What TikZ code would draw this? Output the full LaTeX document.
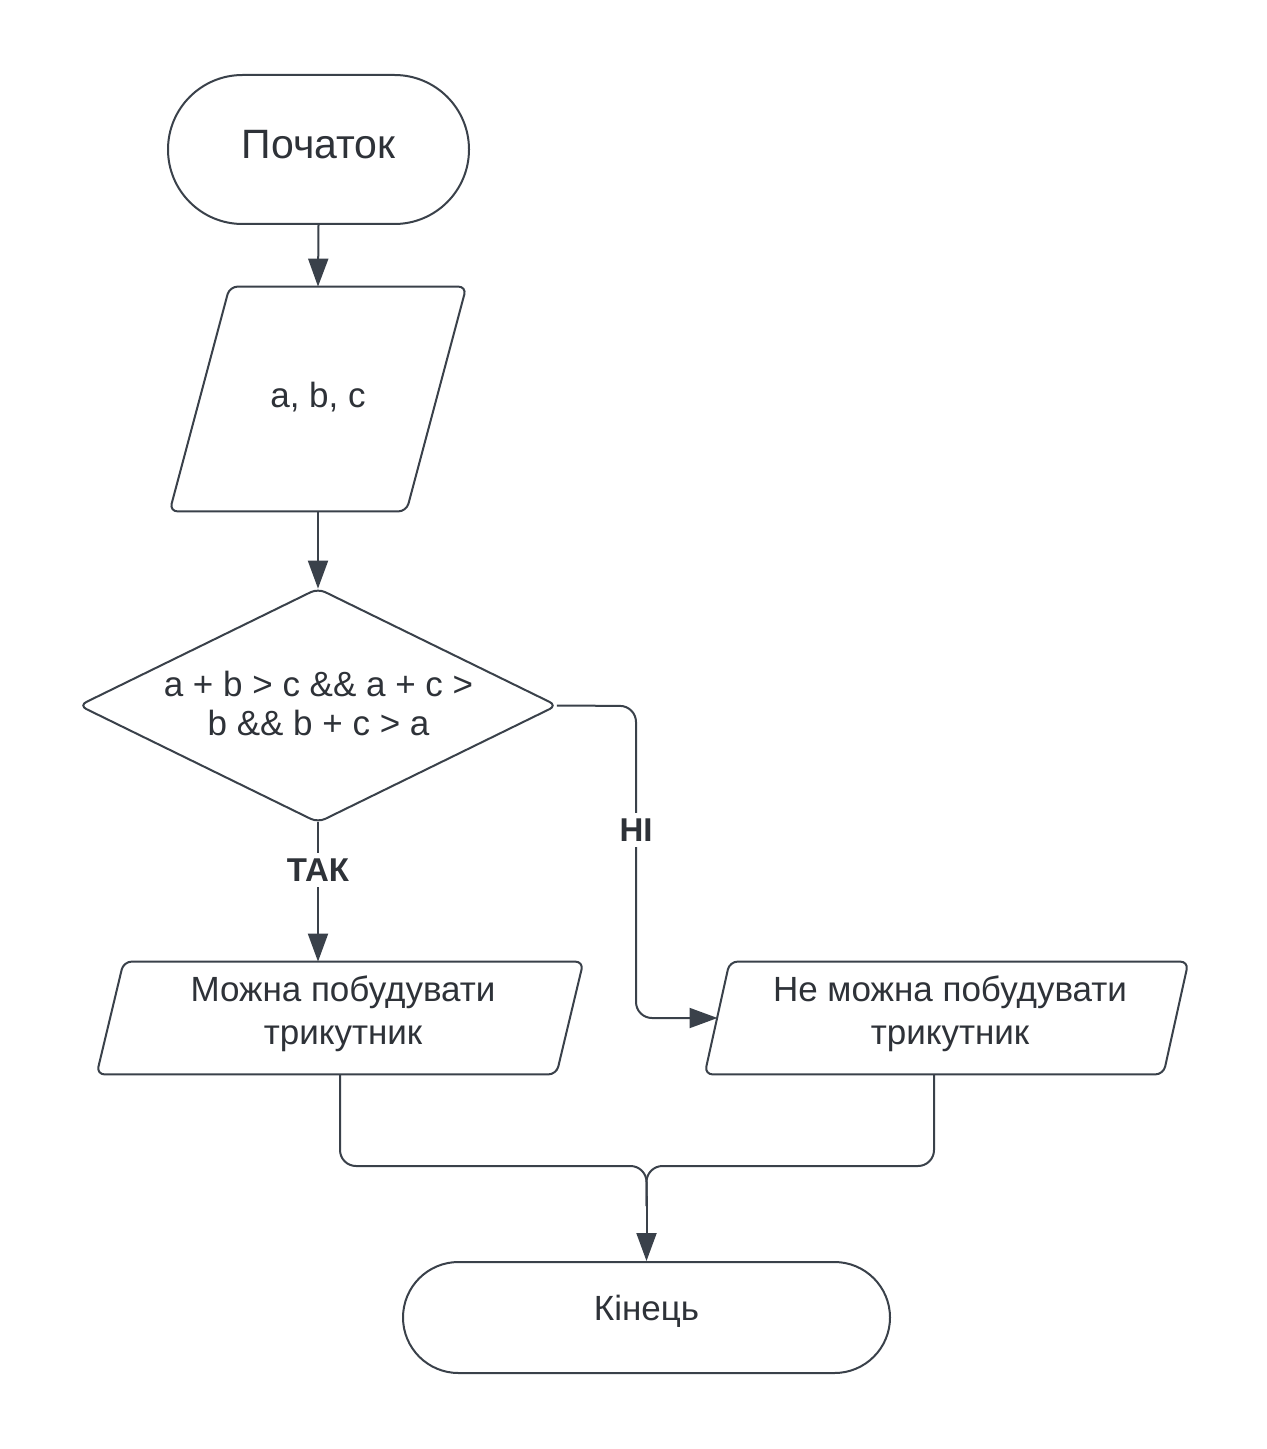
\documentclass[tikz,border=0pt]{standalone}
\usepackage{fontspec}
\setmainfont{Liberation Sans}
\usetikzlibrary{arrows.meta,calc}
\definecolor{linec}{HTML}{3A414A}
\definecolor{textc}{HTML}{2E3238}
\begin{document}
\begin{tikzpicture}[x=0.5pt,y=-0.5pt,
  every node/.style={text=textc, align=center, inner sep=0pt},
  ln/.style={draw=linec, line width=1pt},
  arr/.style={ln, -{Triangle[length=14pt,width=10pt]}},
  term/.style={ln, rectangle, fill=white},
  box/.style={draw=none, rectangle},
  body/.style={font=\fontsize{17.5}{21}\selectfont},
  lbl/.style={font=\fontsize{16.5}{19}\selectfont\bfseries, fill=white, inner sep=3pt}
]
\useasboundingbox (0,0) rectangle (1266,1449);
\fill[white] (0,0) rectangle (1266,1449);

% start
\node[term, minimum width=150.5pt, minimum height=74.5pt, rounded corners=37.25pt] (start) at (318.5,149.5) {};
\node[font=\fontsize{20.5}{24}\selectfont] (starttxt) at (318.5,145) {Початок};

% input a,b,c
\node[box, minimum width=148pt, minimum height=112pt] (p1) at (318,399) {};
\draw[ln, rounded corners=4pt] ($(p1.north west)+(60,0)$) -- (p1.north east)
   -- ($(p1.south east)+(-60,0)$) -- (p1.south west) -- cycle;
\node[body] (p1txt) at (318,397) {a, b, c};

% decision
\node[box, minimum width=238.5pt, minimum height=116.5pt] (d) at (318,705.5) {};
\draw[ln, rounded corners=4pt] (d.north) -- (d.east) -- (d.south) -- (d.west) -- cycle;
\node[font=\fontsize{17.5}{19.5}\selectfont] (dtxt) at (318.5,703) {a + b > c \&\& a + c >\\b \&\& b + c > a};

% yes output
\node[box, minimum width=243pt, minimum height=56pt] (p2) at (340,1018) {};
\draw[ln, rounded corners=4pt] ($(p2.north west)+(27,0)$) -- (p2.north east)
   -- ($(p2.south east)+(-27,0)$) -- (p2.south west) -- cycle;
\node[font=\fontsize{17.5}{21.5}\selectfont] (p2txt) at (343,1014) {Можна побудувати\\трикутник};

% no output
\node[box, minimum width=241.5pt, minimum height=56pt] (p3) at (946.5,1018) {};
\draw[ln, rounded corners=4pt] ($(p3.north west)+(25,0)$) -- (p3.north east)
   -- ($(p3.south east)+(-25,0)$) -- (p3.south west) -- cycle;
\node[font=\fontsize{17.5}{21.5}\selectfont] (p3txt) at (950,1014) {Не можна побудувати\\трикутник};

% end
\node[term, minimum width=243.5pt, minimum height=55.5pt, rounded corners=27.75pt] (end) at (646.5,1317.5) {};
\node[body] (endtxt) at (646.5,1311) {Кінець};

% connectors
\coordinate (nox) at (636,706);
\coordinate (p3in) at (717.5,1018);
\coordinate (m) at (646.5,1166);
\coordinate (p3out) at (934,1074);

\draw[arr] (start.south) -- (p1.north);
\draw[arr] (p1.south) -- (d.north);
\draw[arr] (d.south) -- (d.south |- p2.north);
\draw[arr, rounded corners=8pt] (d.east) -- (nox) -- (nox |- p3in) -- (p3in);
\draw[ln, rounded corners=8pt] (p2.south) -- (p2.south |- m) -- (m) -- ($(m)+(0,40)$);
\draw[ln, rounded corners=8pt] (p3out) -- (p3out |- m) -- (m) -- ($(m)+(0,40)$);
\draw[arr] ($(m)+(0,30)$) -- (end.north);

\node[lbl] (yes) at (318,870) {ТАК};
\node[lbl] (no) at (636,830) {НІ};
\end{tikzpicture}
\end{document}
